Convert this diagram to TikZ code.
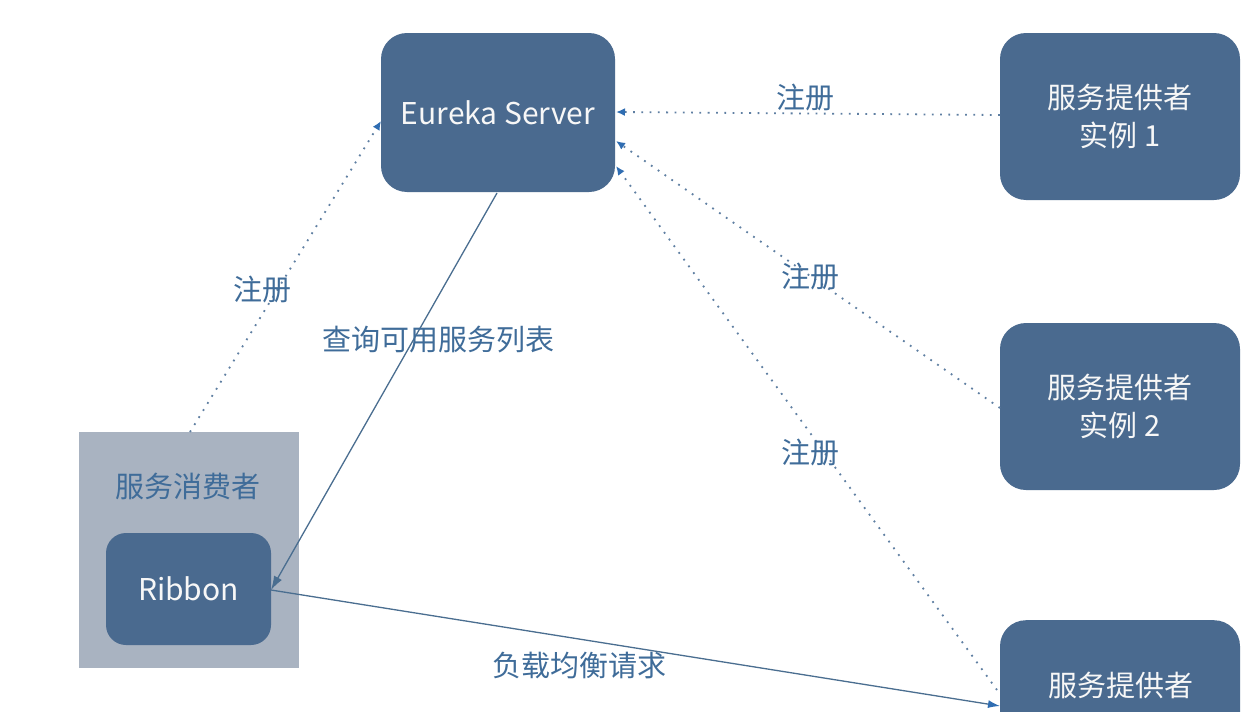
\documentclass[tikz,border=0pt]{standalone}
\usepackage{fontspec}
\newfontfamily\cjk{Noto Sans CJK SC}
\usetikzlibrary{arrows.meta}
\definecolor{boxblue}{HTML}{4A6A8F}
\definecolor{consgray}{HTML}{A9B3C1}
\definecolor{txtblue}{HTML}{3F6C99}
\definecolor{tipblue}{HTML}{2F6DB2}
\definecolor{dotcol}{HTML}{5F7FA2}
\definecolor{linecol}{HTML}{4A6E90}
\begin{document}
\begin{tikzpicture}[x=1pt,y=-1pt,
  box/.style={fill=boxblue,draw=none,rounded corners=26pt,text=white!94!gray,font=\cjk\fontsize{29}{38}\selectfont,align=center,inner sep=0pt},
  lbl/.style={text=txtblue,font=\cjk\fontsize{29}{34}\selectfont,inner sep=0pt},
  reg/.style={draw=dotcol,line width=1.8pt,dash pattern=on 1.8pt off 6.5pt,-{Latex[length=9pt,width=8pt,fill=tipblue,color=tipblue]}},
  sol/.style={draw=linecol,line width=1.3pt,-{Latex[length=14pt,width=9pt,fill=linecol]}}]
\useasboundingbox (0,0) rectangle (1253,712);
\fill[white] (0,0) rectangle (1253,712);
% boxes
\node[box,minimum width=234pt,minimum height=159pt,font=\cjk\fontsize{30}{38}\selectfont] (eureka) at (498,112.5) {Eureka Server};
\node[box,minimum width=240pt,minimum height=167pt] (p1) at (1120,116.5) {服务提供者\\实例 1};
\node[box,minimum width=240pt,minimum height=167pt] (p2) at (1120,406.5) {服务提供者\\实例 2};
\node[box,minimum width=240pt,minimum height=170pt,anchor=north] (p3) at (1120,620) {};
\node[text=white!94!gray,font=\cjk\fontsize{29}{34}\selectfont,inner sep=0pt] (p3t) at (1121,685) {服务提供者};
\node[fill=consgray,minimum width=220pt,minimum height=236pt,inner sep=0pt] (cons) at (189,550) {};
\node[lbl] (constxt) at (188,486) {服务消费者};
\node[box,rounded corners=20pt,minimum width=165pt,minimum height=112pt,font=\cjk\fontsize{30}{38}\selectfont] (ribbon) at (188.5,589) {Ribbon};
% coordinates
\coordinate (consTop) at (190,432);
\coordinate (eL) at (381,121);
\coordinate (eR1) at (616,112);
\coordinate (eR2) at (616,141);
\coordinate (eR3) at (616,166);
\coordinate (eB) at (497,193);
\coordinate (rR) at (271,590);
\coordinate (p1L) at (1000,115);
\coordinate (p2L) at (1000,408);
\coordinate (p3L) at (997,690);
\coordinate (p3in) at (1000,706);
% connectors
\draw[reg] (consTop) -- (eL);
\draw[reg] (p1L) -- (eR1);
\draw[reg] (p2L) -- (eR2);
\draw[reg] (p3L) -- (eR3);
\draw[sol] (eB) -- (rR);
\draw[sol,-{Latex[length=12pt,width=8pt,fill=tipblue,color=tipblue]}] (rR) -- (p3in);
% labels
\node[lbl] (l1) at (805,98) {注册};
\node[lbl] (l2) at (262,290) {注册};
\node[lbl] (l3) at (810,277) {注册};
\node[lbl] (l4) at (810,453) {注册};
\node[lbl] (l5) at (438,340) {查询可用服务列表};
\node[lbl] (l6) at (579,665) {负载均衡请求};
\end{tikzpicture}
\end{document}
